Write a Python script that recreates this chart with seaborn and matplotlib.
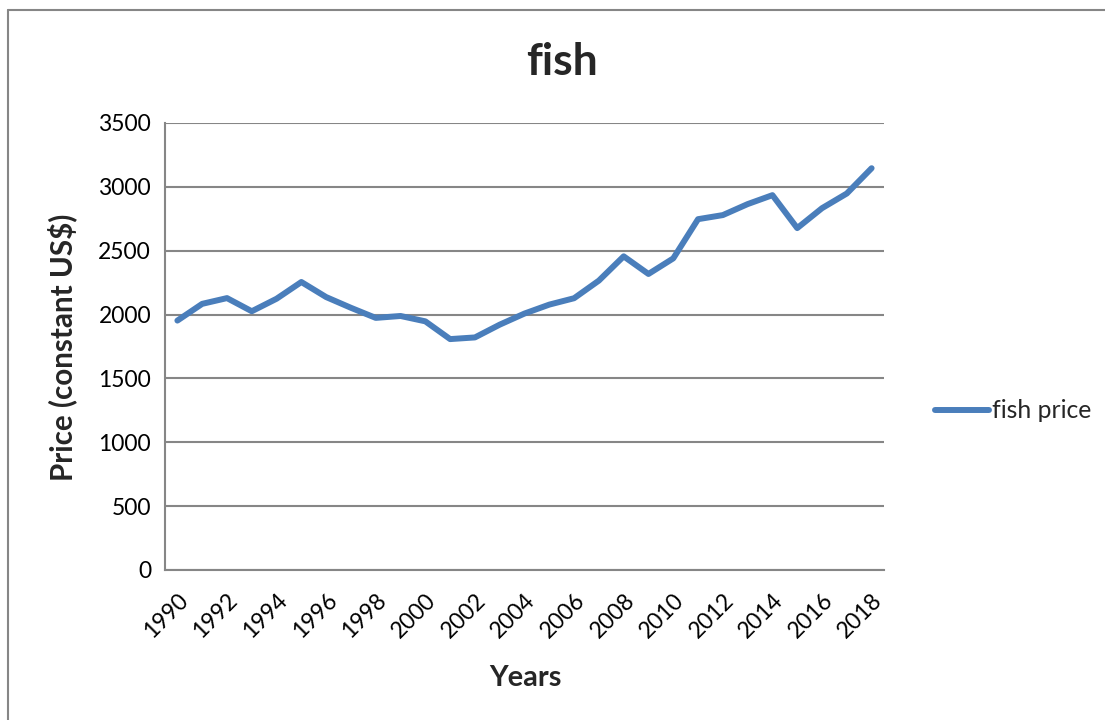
import matplotlib
matplotlib.use("Agg")
from matplotlib import pyplot as plt
from matplotlib.lines import Line2D
import pandas as pd
import seaborn as sns

years = list(range(1990, 2019))
fish_price = [1953, 2084, 2129, 2026, 2124, 2255, 2137, 2053, 1974, 1989,
              1947, 1808, 1821, 1921, 2008, 2078, 2128, 2266, 2456, 2318,
              2440, 2747, 2779, 2865, 2935, 2677, 2833, 2948, 3146]
tick_years = years[::2]
y_ticks = [0, 500, 1000, 1500, 2000, 2500, 3000, 3500]

df = pd.DataFrame({"Years": years, "fish price": fish_price})

sns.set_style("white")
plt.rcParams['font.family'] = ['Lato', 'DejaVu Sans']

grey = "#868686"
blue = "#4A7EBB"

fig = plt.figure(figsize=(11.05, 7.2), dpi=100)
ax = fig.add_axes([165 / 1105, 1 - 570 / 720, (884 - 165) / 1105, (570 - 123) / 720])

sns.lineplot(data=df, x="Years", y="fish price", ax=ax, color=blue,
             linewidth=4.3, label="fish price", solid_capstyle="round")

ax.set_xlim(years[0] - 0.5, years[-1] + 0.5)
ax.set_ylim(0, 3500)
ax.set_yticks(y_ticks)
ax.set_yticklabels([str(v) for v in y_ticks], fontsize=16.5)
ax.yaxis.grid(True, color=grey, linewidth=1.5)
ax.set_axisbelow(True)

# category ticks between years, labels on every other year
ax.set_xticks([y - 0.5 for y in years] + [years[-1] + 0.5], minor=True)
ax.set_xticks(tick_years)
ax.set_xticklabels([str(y) for y in tick_years], fontsize=16.5, rotation=45,
                   ha="right", rotation_mode="anchor")
ax.tick_params(axis="x", which="major", length=0, pad=14)
ax.tick_params(axis="x", which="minor", length=6, width=1.5, color=grey, direction="out")
ax.tick_params(axis="y", length=6, width=1.5, color=grey, direction="out", pad=4)
ax.tick_params(axis="both", labelcolor="black")

for side in ["top", "right"]:
    ax.spines[side].set_visible(False)
for side in ["left", "bottom"]:
    ax.spines[side].set_color(grey)
    ax.spines[side].set_linewidth(1.5)

ax.set_xlabel("")
ax.set_ylabel("")
fig.text(62 / 1105, 1 - 347 / 720, "Price (constant US$)", rotation=90, fontsize=21.3,
         fontweight="bold", ha="center", va="center")
fig.text(525 / 1105, 1 - 678 / 720, "Years", fontsize=20.8, fontweight="bold",
         ha="center", va="center")
fig.text(562 / 1105, 1 - 62 / 720, "fish", fontsize=32, fontweight="bold",
         ha="center", va="center")

leg = ax.legend(loc="center left", bbox_to_anchor=(925 / 1105, 1 - 411 / 720),
                bbox_transform=fig.transFigure, frameon=False, fontsize=17.8,
                handlelength=2.2, handletextpad=0.1, borderaxespad=0)

# outer chart border
fig.add_artist(Line2D([8 / 1105, 8 / 1105], [0, 1 - 10 / 720], color=grey, linewidth=1.5,
                      transform=fig.transFigure))
fig.add_artist(Line2D([8 / 1105, 1], [1 - 10 / 720, 1 - 10 / 720], color=grey, linewidth=1.5,
                      transform=fig.transFigure))

fig.savefig("out.png", dpi=100)
